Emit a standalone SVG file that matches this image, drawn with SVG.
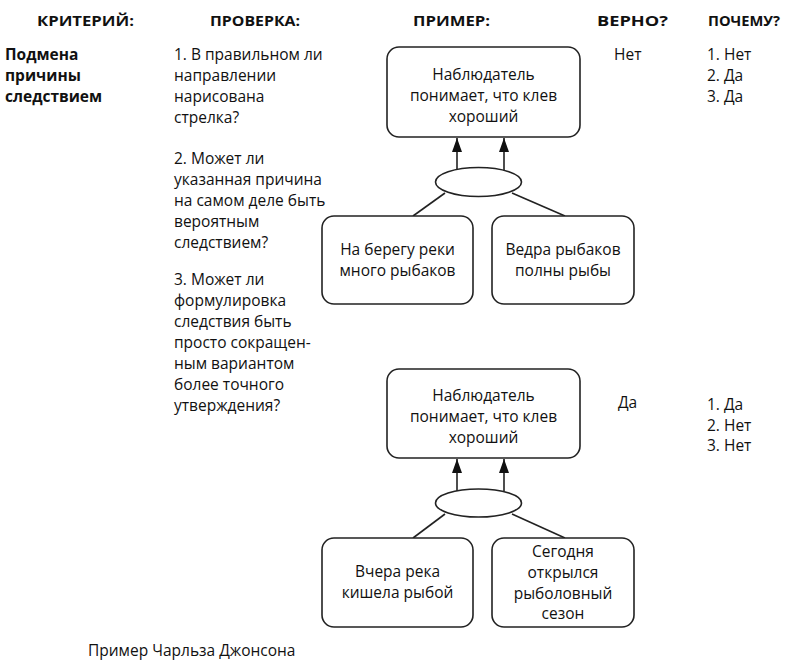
<svg xmlns="http://www.w3.org/2000/svg" width="801" height="667" viewBox="0 0 801 667">
<style>
.h{font-family:"Open Sans","Liberation Sans",sans-serif;font-weight:bold;font-size:15px;fill:#111}
.t{font-family:"Open Sans","Liberation Sans",sans-serif;font-size:15.5px;fill:#111}
.b{font-family:"Open Sans","Liberation Sans",sans-serif;font-weight:bold;font-size:15.5px;fill:#111}
.c{text-anchor:middle}
.box{fill:#fff;stroke:#222;stroke-width:1.6}
.ell{fill:#fff;stroke:#222;stroke-width:1.6}
.ln{stroke:#222;stroke-width:1.6;fill:none}
</style>
<defs>
<marker id="ah" viewBox="0 0 14 10" refX="14" refY="5" markerWidth="14" markerHeight="10" markerUnits="userSpaceOnUse" orient="auto">
<path d="M0,0 L14,5 L0,10 Z" fill="#111"/>
</marker>
</defs>
<rect width="801" height="667" fill="#fff"/>
<g id="headers">
<text class="h" x="37" y="26" textLength="97" lengthAdjust="spacingAndGlyphs">КРИТЕРИЙ:</text>
<text class="h" x="210" y="26" textLength="90" lengthAdjust="spacingAndGlyphs">ПРОВЕРКА:</text>
<text class="h" x="413" y="26" textLength="77" lengthAdjust="spacingAndGlyphs">ПРИМЕР:</text>
<text class="h" x="597" y="26" textLength="71" lengthAdjust="spacingAndGlyphs">ВЕРНО?</text>
<text class="h" x="708" y="26" textLength="72" lengthAdjust="spacingAndGlyphs">ПОЧЕМУ?</text>
</g>
<g id="criterion">
<text class="b" x="5" y="60">Подмена</text>
<text class="b" x="5" y="81">причины</text>
<text class="b" x="5" y="102">следствием</text>
</g>
<g id="checks">
<text class="t" x="174" y="60">1. В правильном ли</text>
<text class="t" x="174" y="81">направлении</text>
<text class="t" x="174" y="102">нарисована</text>
<text class="t" x="174" y="123">стрелка?</text>
<text class="t" x="174" y="164">2. Может ли</text>
<text class="t" x="174" y="185">указанная причина</text>
<text class="t" x="174" y="206">на самом деле быть</text>
<text class="t" x="174" y="227">вероятным</text>
<text class="t" x="174" y="248">следствием?</text>
<text class="t" x="174" y="285">3. Может ли</text>
<text class="t" x="174" y="306">формулировка</text>
<text class="t" x="174" y="327">следствия быть</text>
<text class="t" x="174" y="348">просто сокращен-</text>
<text class="t" x="174" y="369">ным вариантом</text>
<text class="t" x="174" y="390">более точного</text>
<text class="t" x="174" y="411">утверждения?</text>
</g>
<g id="verdicts">
<text class="t" x="614" y="60">Нет</text>
<text class="t" x="707" y="60">1. Нет</text>
<text class="t" x="707" y="81">2. Да</text>
<text class="t" x="707" y="102">3. Да</text>
<text class="t" x="618" y="408">Да</text>
<text class="t" x="707" y="410">1. Да</text>
<text class="t" x="707" y="431">2. Нет</text>
<text class="t" x="707" y="451">3. Нет</text>
</g>
<g id="connectors">
<line class="ln" x1="457" y1="170" x2="457" y2="138" marker-end="url(#ah)"/>
<line class="ln" x1="504" y1="170" x2="504" y2="138" marker-end="url(#ah)"/>
<line class="ln" x1="445" y1="193" x2="413" y2="216"/>
<line class="ln" x1="512" y1="193" x2="565" y2="216"/>
<line class="ln" x1="457" y1="491" x2="457" y2="459" marker-end="url(#ah)"/>
<line class="ln" x1="504" y1="491" x2="504" y2="459" marker-end="url(#ah)"/>
<line class="ln" x1="445" y1="514" x2="413" y2="538"/>
<line class="ln" x1="512" y1="514" x2="565" y2="538"/>
</g>
<g id="effect1">
<rect class="box" x="387" y="47" width="193" height="90" rx="12"/>
<text class="t c" x="483.5" y="80">Наблюдатель</text>
<text class="t c" x="483.5" y="101">понимает, что клев</text>
<text class="t c" x="483.5" y="122">хороший</text>
</g>
<g id="and1"><ellipse class="ell" cx="478.5" cy="182" rx="43" ry="14.5"/></g>
<g id="cause1a">
<rect class="box" x="322" y="216" width="151" height="88" rx="12"/>
<text class="t c" x="397.5" y="255">На берегу реки</text>
<text class="t c" x="397.5" y="276">много рыбаков</text>
</g>
<g id="cause1b">
<rect class="box" x="492" y="216" width="142" height="88" rx="12"/>
<text class="t c" x="563" y="255">Ведра рыбаков</text>
<text class="t c" x="563" y="276">полны рыбы</text>
</g>
<g id="effect2">
<rect class="box" x="387" y="369" width="193" height="89" rx="12"/>
<text class="t c" x="483.5" y="401">Наблюдатель</text>
<text class="t c" x="483.5" y="422">понимает, что клев</text>
<text class="t c" x="483.5" y="443">хороший</text>
</g>
<g id="and2"><ellipse class="ell" cx="478.5" cy="503" rx="43" ry="14"/></g>
<g id="cause2a">
<rect class="box" x="322" y="538" width="151" height="89" rx="12"/>
<text class="t c" x="397.5" y="577">Вчера река</text>
<text class="t c" x="397.5" y="598">кишела рыбой</text>
</g>
<g id="cause2b">
<rect class="box" x="492" y="538" width="142" height="89" rx="12"/>
<text class="t c" x="563" y="557">Сегодня</text>
<text class="t c" x="563" y="578">открылся</text>
<text class="t c" x="563" y="599">рыболовный</text>
<text class="t c" x="563" y="619">сезон</text>
</g>
<g id="footer">
<text class="t" x="88" y="656">Пример Чарльза Джонсона</text>
</g>
</svg>
